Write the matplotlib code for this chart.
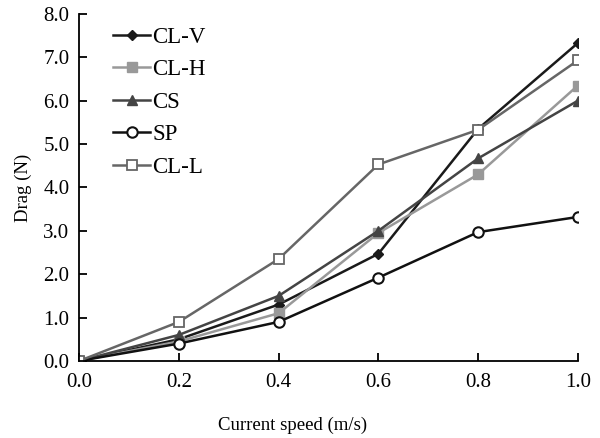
import matplotlib
matplotlib.use("Agg")
import matplotlib.pyplot as plt

speed = [0.0, 0.2, 0.4, 0.6, 0.8, 1.0]
cl_v = [0.0, 0.5, 1.3, 2.47, 5.35, 7.33]
cl_h = [0.0, 0.45, 1.1, 2.95, 4.3, 6.35]
cs = [0.0, 0.6, 1.5, 3.0, 4.67, 6.0]
sp = [0.0, 0.4, 0.9, 1.92, 2.97, 3.32]
cl_l = [0.0, 0.9, 2.35, 4.53, 5.33, 6.93]

plt.rcParams.update({"font.family": "Liberation Serif", "font.size": 13})
fig, ax = plt.subplots(figsize=(6.0, 4.38), dpi=100)
fig.subplots_adjust(left=0.132, right=0.963, top=0.968, bottom=0.176)

ax.plot(speed, cl_v, color="#1a1a1a", lw=1.8, marker="D", ms=5, label="CL-V")
ax.plot(speed, cl_h, color="#999999", lw=1.8, marker="s", ms=6.5, label="CL-H")
ax.plot(speed, cs, color="#444444", lw=1.8, marker="^", ms=7, label="CS")
ax.plot(speed, sp, color="#111111", lw=1.8, marker="o", ms=7.5, mfc="white", mew=1.5, label="SP")
ax.plot(speed, cl_l, color="#666666", lw=1.8, marker="s", ms=7, mfc="white", mew=1.3, label="CL-L")

ax.set_xlim(0, 1.0)
ax.set_ylim(0, 8.0)
ax.set_xticks(speed, [f"{v:.1f}" for v in speed])
ax.set_yticks(range(9), [f"{v:.1f}" for v in range(9)])
ax.tick_params(direction="in", length=6, width=1.3, labelsize=15)
ax.tick_params(axis="x", pad=9)
ax.tick_params(axis="y", pad=7)
ax.spines[["top", "right"]].set_visible(False)
ax.spines[["left", "bottom"]].set_linewidth(1.3)
ax.set_xlabel("Current speed (m/s)", fontsize=13.5)
ax.set_ylabel("Drag (N)", fontsize=13.5)
ax.xaxis.set_label_coords(0.427, -0.16)
ax.yaxis.set_label_coords(-0.095, 0.5)
ax.legend(loc="upper left", frameon=False, fontsize=16.5, handlelength=1.6,
          handletextpad=0.1, labelspacing=0.5, borderaxespad=0.0, bbox_to_anchor=(0.05, 0.99))
fig.savefig("out.png")
